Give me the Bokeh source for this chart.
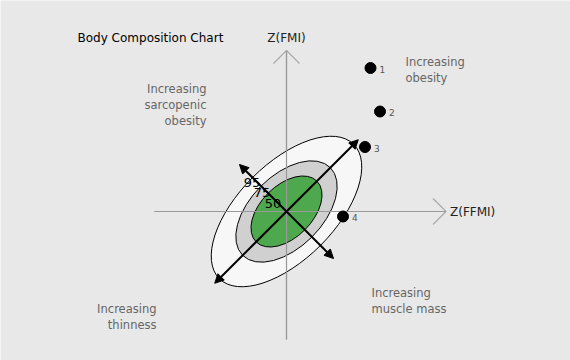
import math
from bokeh.plotting import figure
from bokeh.models import Range1d, ColumnDataSource, Arrow, NormalHead
from bokeh.core.properties import value
from bokeh.embed import file_html
from bokeh.resources import INLINE

# ---- data (z-score units) ----
pt_ids = ["1", "2", "3", "4"]
pt_x = [1.68, 1.87, 1.57, 1.13]
pt_y = [2.87, 2.00, 1.29, -0.10]

pct_labels = ["95", "75", "50"]
ell_width = [3.80, 2.48, 1.72]   # major axis (full length)
ell_height = [1.92, 1.44, 1.04]  # minor axis (full length)
ell_fill = ["#f7f7f7", "#d0d0d0", "#4ea84e"]
ell_angle_deg = 45

lab_x = [-0.69, -0.49, -0.27]
lab_y = [0.58, 0.38, 0.17]

major_half = 2.03
minor_half = 1.33

axis_x = [-2.64, 3.19]
axis_y = [-2.56, 3.22]

quad_text = ["Increasing\nobesity", "Increasing\nsarcopenic\nobesity",
             "Increasing\nthinness", "Increasing\nmuscle mass"]
quad_x = [2.38, -1.60, -2.60, 1.70]
quad_y = [3.14, 2.60, -1.80, -1.48]
quad_align = ["left", "right", "right", "left"]

PX = 50.0  # pixels per unit
W, H = 570, 360
cx, cy = 286, 211

p = figure(width=W, height=H, output_backend="svg", toolbar_location=None,
           x_range=Range1d(-cx / PX, (W - cx) / PX),
           y_range=Range1d(-(H - cy) / PX, cy / PX),
           min_border=0, min_border_left=0, min_border_right=0,
           min_border_top=0, min_border_bottom=0)
p.axis.visible = False
p.grid.visible = False
p.outline_line_color = None
p.background_fill_color = "#e8e8e8"
p.border_fill_color = "#e8e8e8"

# axes lines
p.line(x=axis_x, y=[0, 0], line_color="#999999", line_width=1.2)
p.line(x=[0, 0], y=axis_y, line_color="#999999", line_width=1.2)
ch = 13 / PX
p.line(x=[axis_x[1] - ch, axis_x[1], axis_x[1] - ch], y=[ch, 0, -ch],
       line_color="#aaaaaa", line_width=1.2)
p.line(x=[-ch, 0, ch], y=[axis_y[1] - ch, axis_y[1], axis_y[1] - ch],
       line_color="#aaaaaa", line_width=1.2)

# ellipses
src = ColumnDataSource(dict(x=[0, 0, 0], y=[0, 0, 0], w=ell_width, h=ell_height,
                            c=ell_fill))
p.ellipse(x="x", y="y", width="w", height="h", angle=math.radians(ell_angle_deg),
          fill_color="c", line_color="black", line_width=1, source=src)

# redraw axes lines through ellipses
p.line(x=axis_x, y=[0, 0], line_color="#999999", line_width=1.2)
p.line(x=[0, 0], y=axis_y, line_color="#999999", line_width=1.2)

# double arrows
a = math.radians(ell_angle_deg)
mx, my = major_half * math.cos(a), major_half * math.sin(a)
nx, ny = minor_half * math.cos(a + math.pi / 2), minor_half * math.sin(a + math.pi / 2)
for (x0, y0, x1, y1) in [(-mx, -my, mx, my), (-nx, -ny, nx, ny)]:
    p.add_layout(Arrow(x_start=x0, y_start=y0, x_end=x1, y_end=y1,
                       line_color="black", line_width=2,
                       start=NormalHead(size=9, fill_color="black", line_color="black"),
                       end=NormalHead(size=9, fill_color="black", line_color="black")))

# percentile labels
p.text(x=lab_x, y=lab_y, text=pct_labels, text_align="center", text_baseline="middle",
       text_font=value("DejaVu Sans"), text_font_size="13px", text_color="black")

# points
p.scatter(x=pt_x, y=pt_y, size=11, fill_color="black", line_color="black")
p.text(x=pt_x, y=pt_y, text=pt_ids, x_offset=9, y_offset=1, text_align="left",
       text_baseline="middle", text_font=value("DejaVu Sans"), text_font_size="9px",
       text_color="#555555")

# quadrant texts
p.text(x=quad_x, y=quad_y, text=quad_text, text_align=quad_align, text_baseline="top",
       text_font=value("DejaVu Sans"), text_font_size="11.5px", text_color="#666666",
       text_line_height=1.15)

# axis labels and title
p.text(x=[0], y=[axis_y[1]], text=["Z(FMI)"], y_offset=-13, text_align="center",
       text_baseline="middle", text_font=value("DejaVu Sans"), text_font_size="12px",
       text_color="#222222")
p.text(x=[axis_x[1]], y=[0], text=["Z(FFMI)"], x_offset=4, text_align="left",
       text_baseline="middle", text_font=value("DejaVu Sans"), text_font_size="12px",
       text_color="#222222")
p.text(x=[-4.18], y=[3.48], text=["Body Composition Chart"], text_align="left",
       text_baseline="middle", text_font=value("DejaVu Sans"), text_font_size="12px",
       text_color="black")

open("out.html", "w").write(file_html(p, INLINE))
